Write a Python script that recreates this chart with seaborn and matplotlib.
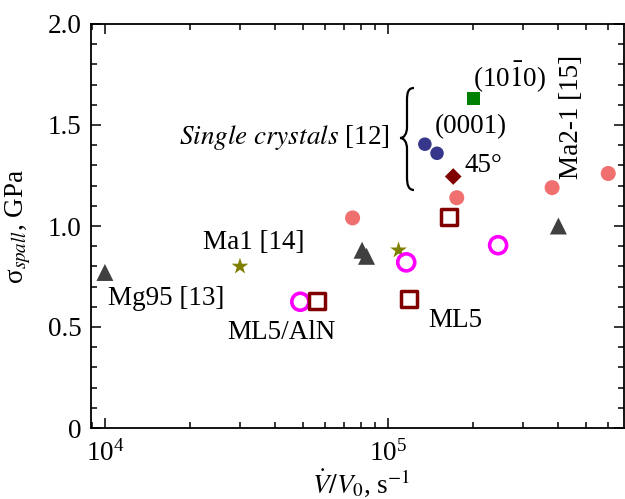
import numpy as np
import matplotlib
matplotlib.use('Agg')
import matplotlib.pyplot as plt
from matplotlib.path import Path
from matplotlib.patches import PathPatch
from matplotlib.ticker import LogLocator, MultipleLocator, NullFormatter
import seaborn as sns

# strain rate (1/s) and spall strength (GPa)
mg95_x = [1.0e4]
mg95_y = [0.77]
tri_x = [8.1e4, 8.4e4, 4.0e5]
tri_y = [0.88, 0.85, 1.00]
ma1_x = [3.0e4, 1.09e5]
ma1_y = [0.80, 0.88]
salmon_x = [7.5e4, 1.75e5, 3.8e5, 6.0e5]
salmon_y = [1.04, 1.14, 1.19, 1.26]
ml5_x = [5.6e4, 1.19e5, 1.64e5]
ml5_y = [0.63, 0.64, 1.045]
aln_x = [4.9e4, 1.16e5, 2.45e5]
aln_y = [0.625, 0.82, 0.905]
c0001_x = [1.35e5, 1.49e5]
c0001_y = [1.405, 1.36]
c45_x = [1.70e5]
c45_y = [1.245]
c1010_x = [2.0e5]
c1010_y = [1.63]

sns.set_style('ticks')
plt.rcParams['font.family'] = ['Liberation Serif', 'DejaVu Serif']
plt.rcParams['mathtext.fontset'] = 'stix'
plt.rcParams['font.size'] = 19.5
for k in ['text.color', 'axes.labelcolor', 'xtick.color', 'ytick.color', 'axes.edgecolor']:
    plt.rcParams[k] = 'black'

fig = plt.figure(figsize=(6.25, 4.99), dpi=100)
ax = fig.add_axes([91 / 625, (499 - 428) / 499, 533 / 625, 404 / 499])
ax.set_xscale('log')

sns.scatterplot(x=salmon_x, y=salmon_y, ax=ax, marker='o', s=117,
                color='#f07070', edgecolor='none')
sns.scatterplot(x=tri_x + mg95_x, y=tri_y + mg95_y, ax=ax, marker='^', s=150,
                color='#404040', edgecolor='none')
sns.scatterplot(x=ma1_x, y=ma1_y, ax=ax, marker='*', s=160,
                color='#808000', edgecolor='none')
sns.scatterplot(x=aln_x, y=aln_y, ax=ax, marker='o', s=150,
                facecolor='none', edgecolor='#ff00ff', linewidth=2.6)
sns.scatterplot(x=ml5_x, y=ml5_y, ax=ax, marker='s', s=130,
                facecolor='none', edgecolor='#800000', linewidth=2.5)
sns.scatterplot(x=c0001_x, y=c0001_y, ax=ax, marker='o', s=95,
                color='#36368a', edgecolor='none')
sns.scatterplot(x=c45_x, y=c45_y, ax=ax, marker='D', s=72,
                color='#800000', edgecolor='none')
sns.scatterplot(x=c1010_x, y=c1010_y, ax=ax, marker='s', s=83,
                color='#008000', edgecolor='none')

ax.set_xlim(8.93e3, 6.82e5)
ax.set_ylim(0, 2.0)
ax.xaxis.set_major_locator(LogLocator(base=10, numticks=10))
ax.xaxis.set_minor_locator(LogLocator(base=10, subs=np.arange(2, 10), numticks=20))
ax.xaxis.set_minor_formatter(NullFormatter())
ax.yaxis.set_major_locator(MultipleLocator(0.5))
ax.yaxis.set_minor_locator(MultipleLocator(0.1))
ax.set_yticks([0, 0.5, 1.0, 1.5, 2.0])
ax.set_yticklabels(['0', '0.5', '1.0', '1.5', '2.0'])
ax.tick_params(which='both', direction='in', top=True, right=True, width=1.1, labelsize=19.5)
ax.tick_params(which='major', length=7.5)
ax.tick_params(which='minor', length=4)
ax.tick_params(axis='x', pad=9)
ax.tick_params(axis='y', pad=7)
for sp in ax.spines.values():
    sp.set_linewidth(1.3)

ax.set_ylabel(r'σ$_{spall}$, GPa', fontsize=19.5)
ax.yaxis.set_label_coords(-0.108, 0.5)
ax.set_xlabel(r'$\dot{V}/V_0$, s$^{-1}$', fontsize=19.5)
ax.xaxis.set_label_coords(0.507, -0.098)

# labels
ax.text(1.025e4, 0.64, 'Mg95 [13]', va='center', ha='left')
ax.text(2.22e4, 0.92, 'Ma1 [14]', va='center', ha='left')
ax.text(2.70e4, 0.475, 'ML5/AlN', va='center', ha='left')
ax.text(1.386e5, 0.53, 'ML5', va='center', ha='left')
ax.text(1.465e5, 1.49, '(0001)', va='center', ha='left')
ax.text(1.87e5, 1.30, '45°', va='center', ha='left')
ax.text(2.0e5, 1.74, r'(10$\bar{1}$0)', va='center', ha='left')
ax.text(1.018e5, 1.436, r'$\mathit{Single\ crystals}$ [12]', va='center', ha='right')
ax.text(4.45e5, 1.54, 'Ma2-1 [15]', va='center', ha='center', rotation=90)


# curly brace, drawn in pixel units of the axes box
def px(x, y):
    return ((x - 91) / 533, (428 - y) / 404)


verts = [px(414, 88), px(408, 88), px(407, 93), px(407, 100),
         px(407, 127),
         px(407, 134), px(404, 138), px(400, 138),
         px(404, 138), px(407, 142), px(407, 149),
         px(407, 177),
         px(407, 184), px(408, 190), px(414, 190)]
codes = [Path.MOVETO, Path.CURVE4, Path.CURVE4, Path.CURVE4,
         Path.LINETO,
         Path.CURVE4, Path.CURVE4, Path.CURVE4,
         Path.CURVE4, Path.CURVE4, Path.CURVE4,
         Path.LINETO,
         Path.CURVE4, Path.CURVE4, Path.CURVE4]
ax.add_patch(PathPatch(Path(verts, codes), transform=ax.transAxes,
                       facecolor='none', edgecolor='black', linewidth=1.6))

fig.savefig('out.png', dpi=100)
